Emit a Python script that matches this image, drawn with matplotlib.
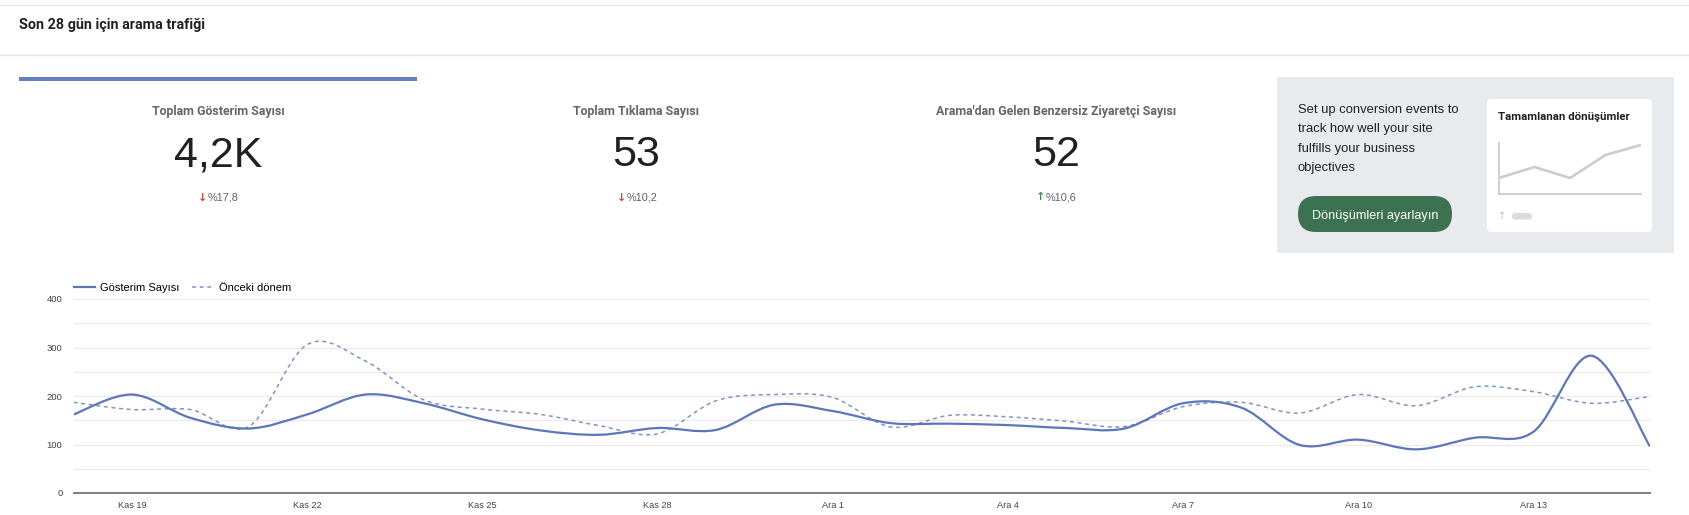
import matplotlib
matplotlib.use("Agg")
import numpy as np
import matplotlib.pyplot as plt
from matplotlib.patches import Rectangle, FancyBboxPatch, PathPatch
from matplotlib.path import Path
from matplotlib.lines import Line2D

# ---- data ----
days = [f"Kas {d}" for d in range(18, 31)] + [f"Ara {d}" for d in range(1, 16)]
impressions = [162, 203, 155, 133, 162, 203, 185, 152, 129, 120, 134, 130, 182, 169,
               144, 143, 140, 134, 133, 185, 176, 99, 110, 90, 114, 126, 283, 96]
previous = [187, 172, 172, 137, 306, 272, 192, 173, 162, 139, 122, 190, 203, 197,
            136, 160, 157, 148, 137, 178, 187, 165, 203, 180, 219, 209, 185, 199]

metric_labels = ["Toplam Gösterim Sayısı", "Toplam Tıklama Sayısı",
                 "Arama'dan Gelen Benzersiz Ziyaretçi Sayısı"]
metric_values = ["4,2K", "53", "52"]
metric_changes = ["%17,8", "%10,2", "%10,6"]
metric_up = [False, False, True]

mini_vals = [16, 27, 16, 39, 49]   # placeholder sparkline in the promo card

W, H = 1690, 515
BLUE = "#5b76ba"
ARIAL = "Liberation Sans"
GSANS = "Roboto"


def smooth_path(xs, ys):
    # catmull-rom style cubic bezier through the points (data coords)
    pts = np.column_stack([xs, ys]).astype(float)
    n = len(pts)
    verts, codes = [pts[0]], [Path.MOVETO]
    for i in range(n - 1):
        p0, p1 = pts[max(i - 1, 0)], pts[i]
        p2, p3 = pts[i + 1], pts[min(i + 2, n - 1)]
        verts += [p1 + (p2 - p0) / 6, p2 - (p3 - p1) / 6, p2]
        codes += [Path.CURVE4] * 3
    return Path(verts, codes)


fig = plt.figure(figsize=(W / 100, H / 100), dpi=100)

# background layer in pixel units (y down)
bg = fig.add_axes([0, 0, 1, 1])
bg.set_xlim(0, W)
bg.set_ylim(H, 0)
bg.axis("off")

bg.plot([0, W], [4.5, 4.5], color="#e6e7e9", lw=1)
bg.plot([0, W], [55, 55], color="#e6e7e9", lw=1)
bg.text(19.5, 29, "Son 28 gün için arama trafiği", family=GSANS, fontweight="bold",
        fontsize=10.4, color="#202124", va="baseline")

# selected-card indicator
bg.add_patch(Rectangle((19, 77), 398, 4, color="#6580c0", lw=0))

card_cx = [218, 636.5, 1056]
for cx, lab, val, chg, up in zip(card_cx, metric_labels, metric_values, metric_changes, metric_up):
    bg.text(cx, 115, lab, family=GSANS, fontweight="bold", fontsize=8.9,
            color="#63666b", ha="center", va="baseline")
    bg.text(cx, 166.5, val, family=ARIAL, fontsize=31, color="#202124",
            ha="center", va="baseline")
    bg.text(cx - 15, 200.5, "↑" if up else "↓", family="DejaVu Sans", fontweight="bold",
            fontsize=8, color="#4f8a5b" if up else "#c0503c", ha="center", va="baseline")
    bg.text(cx - 10, 200, chg, family=ARIAL, fontsize=7.8, color="#5f6368",
            ha="left", va="baseline")

# promo panel
bg.add_patch(Rectangle((1277, 77), 397, 176, color="#e8eaed", lw=0))
promo = ["Set up conversion events to", "track how well your site",
         "fulfills your business", "objectives"]
for k, line in enumerate(promo):
    bg.text(1298, 113 + k * 19.3, line, family=ARIAL, fontsize=9.4,
            color="#202124", va="baseline")
bg.add_patch(FancyBboxPatch((1298, 196), 154, 36,
                            boxstyle="round,pad=0,rounding_size=18",
                            fc="#3c7251", ec="none"))
bg.text(1375, 219, "Dönüşümleri ayarlayın", family=ARIAL, fontsize=9.1,
        color="white", ha="center", va="baseline")
bg.add_patch(FancyBboxPatch((1487, 99), 165, 133, boxstyle="round,pad=0,rounding_size=4",
                            fc="white", ec="none"))
bg.text(1498, 120, "Tamamlanan dönüşümler", family=GSANS, fontweight="bold",
        fontsize=8.2, color="#202124", va="baseline")
bg.text(1502, 216, "↑", family="DejaVu Sans", fontsize=7, color="#bdc1c6",
        ha="center", va="center")
bg.add_patch(FancyBboxPatch((1512, 213), 20, 6.5, boxstyle="round,pad=0,rounding_size=3.2",
                            fc="#dadce0", ec="none"))

mini = fig.add_axes([1499 / W, 1 - 194 / H, (1641 - 1499) / W, (194 - 143) / H])
mini.plot(range(len(mini_vals)), mini_vals, color="#cccccc", lw=1.9, solid_joinstyle="miter")
mini.set_xlim(0, len(mini_vals) - 1)
mini.set_ylim(0, 51)
mini.set_facecolor("none")
for s in ["top", "right"]:
    mini.spines[s].set_visible(False)
for s in ["left", "bottom"]:
    mini.spines[s].set_color("#cccccc")
    mini.spines[s].set_linewidth(1.3)
mini.set_xticks([])
mini.set_yticks([])

# ---- line chart ----
x0, x1, ytop, ybot = 73.6, 1650, 299, 493
ax = fig.add_axes([x0 / W, 1 - ybot / H, (x1 - x0) / W, (ybot - ytop) / H])
ax.set_facecolor("none")
xs = np.arange(len(days))
ax.add_patch(PathPatch(smooth_path(xs, previous), fill=False, ec="#7f93c8",
                       lw=1.1, linestyle=(0, (2.6, 2.4)), zorder=3))
ax.add_patch(PathPatch(smooth_path(xs, impressions), fill=False, ec=BLUE,
                       lw=1.6, zorder=4))
ax.set_xlim(0, len(days) - 1)
ax.set_ylim(0, 400)
ax.set_yticks([0, 100, 200, 300, 400])
ax.set_yticks([50, 150, 250, 350], minor=True)
ax.grid(which="both", axis="y", color="#ebebeb", lw=0.9)
ax.set_axisbelow(True)
tick_idx = list(range(1, len(days), 3))
ax.set_xticks(tick_idx)
ax.set_xticklabels([days[i] for i in tick_idx])
for s in ["top", "right", "left"]:
    ax.spines[s].set_visible(False)
ax.spines["bottom"].set_color("#7d7d7d")
ax.spines["bottom"].set_linewidth(1.4)
ax.tick_params(which="both", length=0)
ax.tick_params(axis="x", pad=6, labelsize=6.6, labelcolor="#444444")
ax.tick_params(axis="y", pad=8, labelsize=6.8, labelcolor="#444444")
for lbl in ax.get_xticklabels() + ax.get_yticklabels():
    lbl.set_family(ARIAL)

handles = [Line2D([], [], color=BLUE, lw=1.6),
           Line2D([], [], color="#7f93c8", lw=1.1, linestyle=(0, (2.6, 2.4)))]
ax.legend(handles, ["Gösterim Sayısı", "Önceki dönem"], loc="center left",
          bbox_to_anchor=(0, 1 + 11 / (ybot - ytop)), ncol=2, frameon=False,
          borderpad=0, borderaxespad=0, handlelength=1.9, handletextpad=0.45,
          columnspacing=1.2, prop={"family": ARIAL, "size": 8})

fig.savefig("out.png", dpi=100)
